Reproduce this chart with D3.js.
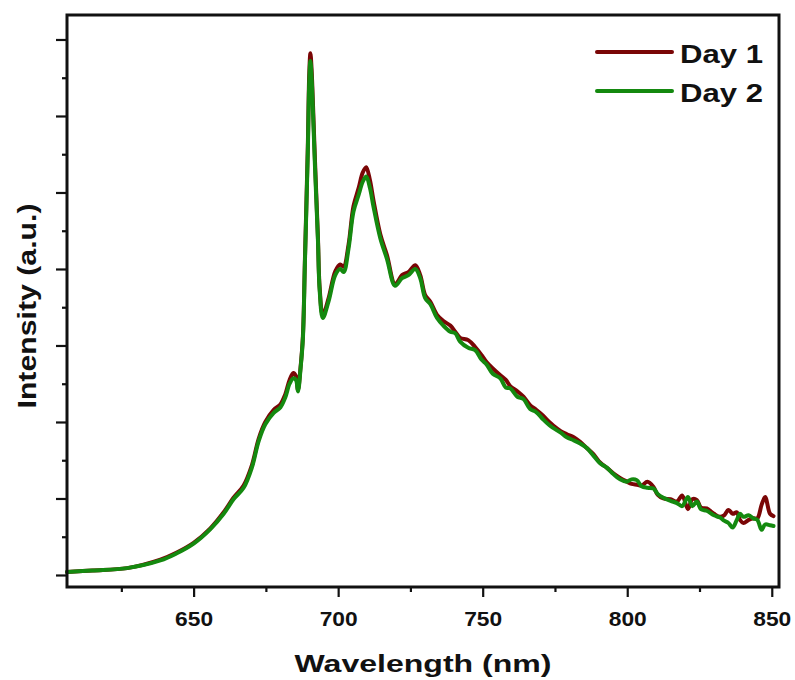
<!DOCTYPE html>
<meta charset="utf-8">
<html>
<head>
<style>
  body { margin: 0; background: #fff; }
  text { font-family: "Liberation Sans", Arial, sans-serif; font-weight: bold; fill: #111; }
</style>
</head>
<body>
<div id="chart"></div>
<script src="https://d3js.org/d3.v7.min.js"></script>
<script>

// wavelength (nm) sample points, shared by both days
var wavelength = [606.2, 615, 627, 638.5, 644, 650, 655.8, 660.4, 663.8, 667.3, 670.2, 672.5, 674.8, 677.7, 680,
  681.7, 683.2, 684.5, 685.4, 686.1, 687, 687.8, 688.5, 689.5, 690.0, 690.4, 690.8, 691.2, 692, 693, 693.6, 694.7,
  696.7, 699, 700.7, 701.9, 703.6, 705.3, 707.1, 708.5, 709.7, 711, 712.2, 714.6, 716.9, 719.7, 722.1, 724.3, 726.7,
  728.4, 730.1, 731.9, 734.2, 736.4, 738.8, 740.5, 742.2, 745, 747.4, 749.5, 751.4, 753.5, 756.1, 758, 759.5, 762,
  764.1, 766.4, 768.5, 771, 773, 774.5, 777, 779.1, 781.5, 783.7, 786, 788.3, 790.6, 793, 795.2, 797.5, 799.9,
  801.5, 803.3, 805, 807, 809.1, 810.5, 812.5, 815, 817.2, 819, 821, 822.5, 824.1, 825.5, 827.5, 830, 832.1, 833.5,
  835, 836.5, 837.9, 839, 840.2, 842, 843.6, 845, 846.5, 847.7, 849.4, 850.6];

var day1 = [0.04, 0.06, 0.09, 0.20, 0.29, 0.42, 0.61, 0.82, 1.01, 1.17, 1.44, 1.78, 2.00, 2.16, 2.23,
  2.36, 2.55, 2.64, 2.60, 2.42, 2.72, 3.12, 4.12, 5.60, 6.55, 6.82, 6.62, 6.25, 5.40, 4.42, 3.76, 3.40,
  3.62, 3.97, 4.06, 4.03, 4.32, 4.82, 5.06, 5.26, 5.33, 5.16, 4.90, 4.45, 4.18, 3.80, 3.92, 3.96, 4.05,
  3.92, 3.66, 3.57, 3.40, 3.32, 3.26, 3.18, 3.10, 3.07, 2.98, 2.88, 2.78, 2.70, 2.61, 2.55, 2.47, 2.40,
  2.33, 2.22, 2.16, 2.08, 2.00, 1.95, 1.88, 1.84, 1.80, 1.74, 1.66, 1.58, 1.47, 1.40, 1.33, 1.27, 1.22,
  1.19, 1.18, 1.17, 1.22, 1.15, 1.05, 1.00, 0.99, 0.96, 1.04, 0.86, 0.99, 0.98, 0.88, 0.87, 0.80, 0.76, 0.78,
  0.85, 0.80, 0.82, 0.72, 0.68, 0.72, 0.74, 0.74, 0.92, 1.02, 0.80, 0.77];

var day2 = [0.04, 0.06, 0.09, 0.19, 0.28, 0.41, 0.60, 0.80, 0.99, 1.14, 1.41, 1.75, 1.97, 2.12, 2.19,
  2.32, 2.50, 2.57, 2.55, 2.40, 2.70, 3.09, 4.08, 5.52, 6.45, 6.72, 6.52, 6.15, 5.32, 4.38, 3.72, 3.36,
  3.58, 3.92, 4.00, 3.96, 4.27, 4.75, 4.97, 5.14, 5.21, 5.06, 4.82, 4.40, 4.13, 3.78, 3.88, 3.92, 4.00,
  3.88, 3.62, 3.54, 3.36, 3.26, 3.18, 3.16, 3.05, 2.97, 2.94, 2.82, 2.75, 2.63, 2.57, 2.45, 2.44, 2.33,
  2.30, 2.17, 2.13, 2.03, 1.96, 1.92, 1.86, 1.80, 1.76, 1.72, 1.66, 1.56, 1.46, 1.40, 1.32, 1.25, 1.22,
  1.25, 1.24, 1.16, 1.14, 1.13, 1.06, 1.01, 0.97, 0.94, 0.90, 1.02, 0.90, 0.96, 0.86, 0.84, 0.78, 0.75, 0.71,
  0.68, 0.62, 0.72, 0.80, 0.76, 0.78, 0.74, 0.72, 0.59, 0.66, 0.65, 0.64];

var xTicks = [650, 700, 750, 800, 850];
var seriesNames = ["Day 1", "Day 2"];
var seriesColors = ["#7a0606", "#14890f"];

var margin = {top: 15, right: 16, bottom: 93, left: 67},
    width = 795 - margin.left - margin.right,
    height = 680 - margin.top - margin.bottom;

var svg = d3.select("#chart")
  .append("svg")
    .attr("width", 795)
    .attr("height", 680)
  .append("g")
    .attr("transform", "translate(" + margin.left + "," + margin.top + ")");

var x = d3.scaleLinear().domain([606.2, 852.5]).range([0, width]);
var y = d3.scaleLinear().domain([-0.157, 7.32]).range([height, 0]);

// x axis: major ticks with labels, minor ticks in between
var xAxis = svg.append("g")
  .attr("transform", "translate(0," + height + ")")
  .call(d3.axisBottom(x).tickValues(d3.range(625, 851, 25)).tickSize(10).tickFormat(""));
xAxis.selectAll(".tick line")
  .attr("y2", function(d) { return d % 50 === 0 ? 10 : 5; })
  .attr("stroke-width", 2.2).attr("stroke", "#111");
xAxis.select(".domain").remove();
xAxis.selectAll(".tick").filter(function(d) { return xTicks.indexOf(d) >= 0; })
  .append("text")
    .attr("y", 39)
    .attr("text-anchor", "middle")
    .attr("font-size", "20px")
    .attr("textLength", 38)
    .attr("lengthAdjust", "spacingAndGlyphs")
    .text(function(d) { return d; });

// y axis: no labels, major + minor ticks
var yAxis = svg.append("g")
  .call(d3.axisLeft(y).tickValues(d3.range(0, 7.01, 0.5)).tickFormat(""));
yAxis.selectAll(".tick line")
  .attr("x2", function(d) { return Math.abs(d % 1) < 0.01 ? -11 : -5; })
  .attr("stroke-width", 2.2).attr("stroke", "#111");
yAxis.select(".domain").remove();

// the lines
var line = d3.line().curve(d3.curveCatmullRom.alpha(0.5));
[day1, day2].forEach(function(vals, k) {
  svg.append("path")
    .datum(wavelength.map(function(w, i) { return [x(w), y(vals[i])]; }))
    .attr("fill", "none")
    .attr("stroke", seriesColors[k])
    .attr("stroke-width", 4)
    .attr("stroke-linejoin", "round")
    .attr("stroke-linecap", "round")
    .attr("d", line);
});

// frame
svg.append("rect")
  .attr("width", width).attr("height", height)
  .attr("fill", "none").attr("stroke", "#111").attr("stroke-width", 3);

// legend
seriesNames.forEach(function(name, k) {
  var ly = 37 + k * 39;
  svg.append("line")
    .attr("x1", 530).attr("x2", 605).attr("y1", ly).attr("y2", ly)
    .attr("stroke", seriesColors[k]).attr("stroke-width", 4).attr("stroke-linecap", "round");
  svg.append("text")
    .attr("x", 613).attr("y", ly + 11)
    .attr("font-size", "25px")
    .attr("textLength", 83)
    .attr("lengthAdjust", "spacingAndGlyphs")
    .text(name);
});

// axis titles
svg.append("text")
  .attr("x", 356).attr("y", 657)
  .attr("text-anchor", "middle")
  .attr("font-size", "23px")
  .attr("textLength", 257)
  .attr("lengthAdjust", "spacingAndGlyphs")
  .text("Wavelength (nm)");

svg.append("text")
  .attr("transform", "translate(-31," + 291 + ") rotate(-90)")
  .attr("text-anchor", "middle")
  .attr("font-size", "25px")
  .attr("textLength", 205)
  .attr("lengthAdjust", "spacingAndGlyphs")
  .text("Intensity (a.u.)");

</script>
</body>
</html>
